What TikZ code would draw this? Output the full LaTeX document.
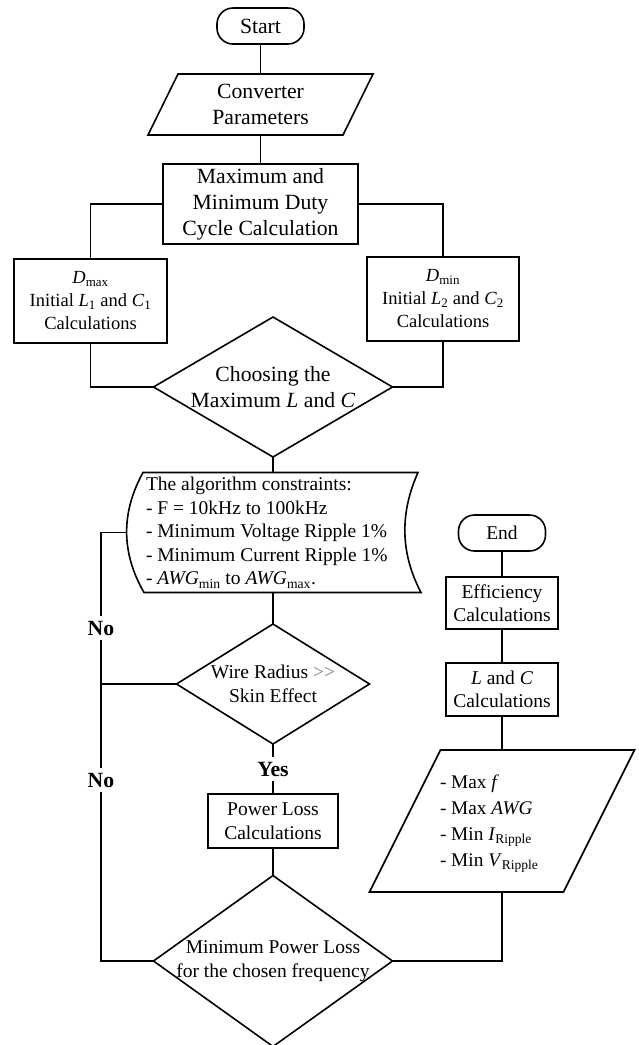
\documentclass[tikz,border=0pt]{standalone}
\usepackage{fontspec}
\setmainfont{Liberation Serif}
\usetikzlibrary{shapes.geometric,calc}
\newcommand\bigf{\fontsize{21.7pt}{26pt}\selectfont}
\newcommand\medf{\fontsize{19.5pt}{23.5pt}\selectfont}
\newcommand\outf{\fontsize{19.3pt}{26pt}\selectfont}
\newcommand\smf{\fontsize{18.5pt}{23pt}\selectfont}
\newcommand\iv[1]{\textit{#1}}
\tikzset{
  every node/.style={inner sep=0pt, outer sep=0pt},
  line/.style={line width=1.6pt},
  box/.style={draw, line width=1.6pt, rectangle, align=center},
  term/.style={draw, line width=1.6pt, rectangle, rounded corners=16pt, align=center},
  ghost/.style={rectangle, draw=none},
  dia/.style={draw, diamond, line width=1.6pt, inner sep=0pt},
  lab/.style={fill=white, font=\bigf\bfseries, inner sep=5pt},
}
\begin{document}
\begin{tikzpicture}[x=1pt,y=-1pt]
\useasboundingbox (0,0) rectangle (639,1045);
% --- top part
\node[term, font=\bigf, minimum width=87pt, minimum height=36pt] (start) at (260.5,26) {Start};
\node[ghost, font=\bigf, align=center, minimum width=195pt, minimum height=61pt] (conv) at (260.5,104.5) {Converter\\Parameters};
\draw[line] ($(conv.north west)+(15,0)$) -- ($(conv.north east)+(15,0)$) -- ($(conv.south east)+(-15,0)$) -- ($(conv.south west)+(-15,0)$) -- cycle;
\node[box, font=\bigf, minimum width=195pt, minimum height=80pt] (mm) at (260.5,204) {Maximum and\\Minimum Duty\\Cycle Calculation};
\node[box, font=\smf, minimum width=153pt, minimum height=84pt] (dmax) at (90.5,301) {\iv{D}\textsubscript{max}\\Initial \iv{L}\textsubscript{1} and \iv{C}\textsubscript{1}\\Calculations};
\node[box, font=\smf, minimum width=152pt, minimum height=84pt] (dmin) at (443,299) {\iv{D}\textsubscript{min}\\Initial \iv{L}\textsubscript{2} and \iv{C}\textsubscript{2}\\Calculations};
\node[dia, minimum width=239pt, minimum height=140pt] (choose) at (273,387) {};
\node[font=\bigf, align=center] (choosetxt) at (choose.center) {Choosing the\\Maximum \iv{L} and \iv{C}};
% --- constraints
\node[ghost, minimum width=275pt, minimum height=120pt] (cons) at (280.5,532.5) {};
\draw[line] (cons.north west) -- (cons.north east)
  .. controls ($(cons.north east)+(-18,40)$) and ($(cons.north east)+(-18,80)$) .. ($(cons.south east)+(3,0)$)
  -- ($(cons.south west)+(1,0)$)
  .. controls ($(cons.south west)+(-22,-40)$) and ($(cons.south west)+(-22,-80)$) .. (cons.north west) coordinate[pos=0.5] (cin)
  -- cycle;
\node[font=\medf, align=left, anchor=north west] (constxt) at (146,477.4) {The algorithm constraints:\\- F = 10kHz to 100kHz\\- Minimum Voltage Ripple 1\%\\- Minimum Current Ripple 1\%\\- \iv{AWG}\textsubscript{min} to \iv{AWG}\textsubscript{max}.};
% --- main lower column
\node[dia, minimum width=193pt, minimum height=120pt] (wire) at (273,684) {};
\node[font=\medf, align=center] (wiretxt) at (wire.center) {Wire Radius {\color{gray}>\kern0pt>}\\Skin Effect};
\node[box, font=\medf, minimum width=130pt, minimum height=54pt] (ploss) at (273,821) {Power Loss\\Calculations};
\node[dia, minimum width=239pt, minimum height=171pt] (minpl) at (273,961) {};
\node[font=\medf, align=center] (minpltxt) at (minpl.center) {Minimum Power Loss\\for the chosen frequency};
% --- right column
\node[term, font=\medf, minimum width=87pt, minimum height=36pt] (end) at (502,533) {End};
\node[box, font=\medf, minimum width=112pt, minimum height=52pt] (eff) at (502,603) {Efficiency\\Calculations};
\node[box, font=\medf, minimum width=112pt, minimum height=53pt] (lc) at (502,689.5) {\iv{L} and \iv{C}\\Calculations};
\node[ghost, minimum width=194pt, minimum height=142pt] (outp) at (502,821) {};
\draw[line] ($(outp.north west)+(35.5,0)$) -- ($(outp.north east)+(35.5,0)$) -- ($(outp.south east)+(-35.5,0)$) -- ($(outp.south west)+(-35.5,0)$) -- cycle;
\node[font=\outf, align=left, anchor=north west] (outtxt) at (440,775) {- Max \iv{f}\\- Max \iv{AWG}\\- Min \iv{I}\textsubscript{Ripple}\\- Min \iv{V}\textsubscript{Ripple}};
% --- connectors
\draw[line] (start.south) -- (conv.north);
\draw[line] (conv.south) -- (mm.north);
\draw[line] (mm.west) -| (dmax.north);
\draw[line] (mm.east) -| (dmin.north);
\draw[line] (dmax.south) |- (choose.west);
\draw[line] (dmin.south) |- (choose.east);
\draw[line] (choose.south) -- (choose.south |- cons.north);
\draw[line] (wire.north) -- (wire.north |- cons.south);
\draw[line] (wire.south) -- node[lab] (yes) {Yes} (ploss.north);
\draw[line] (ploss.south) -- (minpl.north);
\draw[line] (minpl.east) -| (outp.south);
\draw[line] (outp.north) -- (lc.south);
\draw[line] (lc.north) -- (eff.south);
\draw[line] (eff.north) -- (end.south);
\coordinate (fbx) at (101,0);
\draw[line] (minpl.west) -| (fbx |- cin) -- (cin);
\draw[line] (wire.west) -- (wire.west -| fbx);
\node[lab] (no1) at (101,628) {No};
\node[lab] (no2) at (101,780) {No};
\end{tikzpicture}
\end{document}
